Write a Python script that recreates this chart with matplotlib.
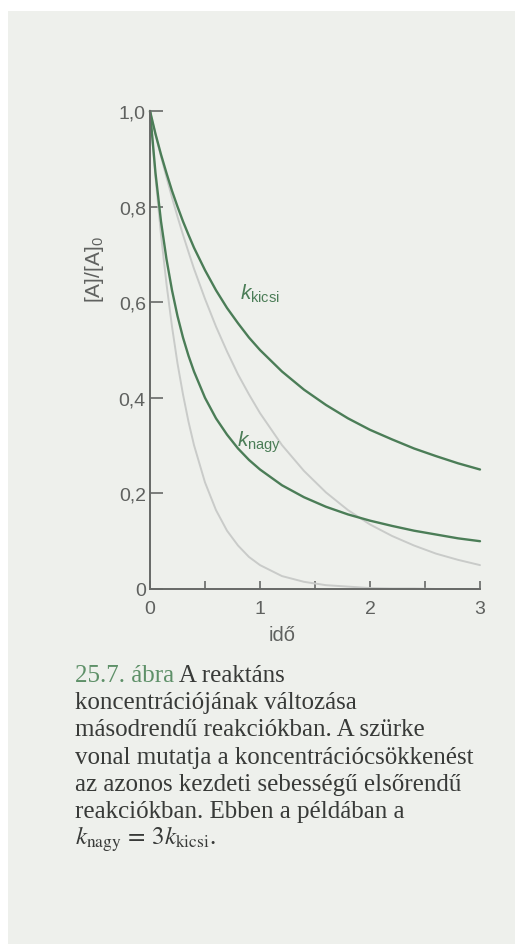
import matplotlib
matplotlib.use("Agg")
import matplotlib.pyplot as plt
from matplotlib.patches import Rectangle

plt.rcParams['mathtext.fontset'] = 'custom'
plt.rcParams['mathtext.rm'] = 'Liberation Sans'
plt.rcParams['mathtext.it'] = 'Liberation Sans:italic'
plt.rcParams['font.family'] = ['Liberation Sans', 'DejaVu Sans']

# ---- data ----
time = [0, 0.05, 0.1, 0.15, 0.2, 0.25, 0.3, 0.35, 0.4, 0.5, 0.6, 0.7, 0.8, 0.9, 1.0,
        1.2, 1.4, 1.6, 1.8, 2.0, 2.2, 2.4, 2.6, 2.8, 3.0]
k_kicsi_second = [1.0, 0.952, 0.909, 0.870, 0.833, 0.800, 0.769, 0.741, 0.714, 0.667, 0.625,
                  0.588, 0.556, 0.526, 0.500, 0.455, 0.417, 0.385, 0.357, 0.333, 0.313,
                  0.294, 0.278, 0.263, 0.250]
k_nagy_second = [1.0, 0.870, 0.769, 0.690, 0.625, 0.571, 0.526, 0.488, 0.455, 0.400, 0.357,
                 0.323, 0.294, 0.270, 0.250, 0.217, 0.192, 0.172, 0.156, 0.143, 0.132,
                 0.122, 0.114, 0.106, 0.100]
k_kicsi_first = [1.0, 0.951, 0.905, 0.861, 0.819, 0.779, 0.741, 0.705, 0.670, 0.607, 0.549,
                 0.497, 0.449, 0.407, 0.368, 0.301, 0.247, 0.202, 0.165, 0.135, 0.111,
                 0.091, 0.074, 0.061, 0.050]
k_nagy_first = [1.0, 0.861, 0.741, 0.638, 0.549, 0.472, 0.407, 0.350, 0.301, 0.223, 0.165,
                0.122, 0.091, 0.067, 0.050, 0.027, 0.015, 0.008, 0.005, 0.002, 0.001,
                0.001, 0.0, 0.0, 0.0]
x_ticks = [0, 1, 2, 3]
x_ticklabels = ["0", "1", "2", "3"]
x_minor = [0.5, 1.5, 2.5]
y_ticks = [0, 0.2, 0.4, 0.6, 0.8, 1.0]
y_ticklabels = ["0", "0,2", "0,4", "0,6", "0,8", "1,0"]
caption_lines = [
    "koncentrációjának változása",
    "másodrendű reakciókban. A szürke",
    "vonal mutatja a koncentrációcsökkenést",
    "az azonos kezdeti sebességű elsőrendű",
    "reakciókban. Ebben a példában a",
]

W, H = 515, 945
fig = plt.figure(figsize=(W / 100, H / 100), dpi=100, facecolor='white')

# page background (scan)
fig.patches.append(Rectangle((8 / W, 0), 1, 1 - 12 / H, transform=fig.transFigure,
                             facecolor='#eef0ec', edgecolor='none', zorder=-10))

GREEN = '#4b7d57'
GRAY = '#c9cbc9'
AXC = '#676967'
TXT = '#5f615f'

x0, x1 = 150, 480
y0, y1 = 590, 112
ax = fig.add_axes([x0 / W, 1 - y0 / H, (x1 - x0) / W, (y0 - y1) / H])
ax.set_facecolor('none')
ax.set_xlim(0, 3)
ax.set_ylim(0, 1)
for s in ['top', 'right']:
    ax.spines[s].set_visible(False)
for s in ['left', 'bottom']:
    ax.spines[s].set_color(AXC)
    ax.spines[s].set_linewidth(1.4)

ax.plot(time, k_nagy_first, color=GRAY, lw=1.4, clip_on=False, solid_capstyle='round')
ax.plot(time, k_kicsi_first, color=GRAY, lw=1.4, clip_on=False, solid_capstyle='round')
ax.plot(time, k_nagy_second, color=GREEN, lw=1.7, clip_on=False, solid_capstyle='round')
ax.plot(time, k_kicsi_second, color=GREEN, lw=1.7, clip_on=False, solid_capstyle='round')

ax.set_xticks(x_ticks)
ax.set_xticklabels(x_ticklabels)
ax.set_xticks(x_minor, minor=True)
ax.set_yticks(y_ticks)
ax.set_yticklabels(y_ticklabels)
ax.tick_params(axis='x', which='both', direction='in', length=6, width=1.2, color=AXC,
               labelsize=14, labelcolor=TXT, pad=8)
ax.tick_params(axis='y', which='both', direction='in', length=9, width=1.2, color=AXC,
               labelsize=14, labelcolor=TXT, pad=3)

ax.set_xlabel("idő", fontsize=14.5, color=TXT)
ax.xaxis.set_label_coords(1.2 / 3, -0.076)
ax.set_ylabel("[A]/[A]$_0$", fontsize=15, color=TXT)
ax.yaxis.set_label_coords(-0.133, 0.67)

ax.text(0.82, 0.62, r"$k_{\mathrm{kicsi}}$", color=GREEN, fontsize=15, ha='left', va='center')
ax.text(0.79, 0.31, r"$k_{\mathrm{nagy}}$", color=GREEN, fontsize=15, ha='left', va='center')

# caption
cx = 75 / W
fs = 18
serif = ['Liberation Serif', 'DejaVu Serif']
base = 682
step = 27.2
t1 = fig.text(cx, 1 - base / H, "25.7. ábra", color='#5e9068', fontsize=fs, family=serif,
              va='baseline', ha='left')
ax.annotate(" A reaktáns", xy=(1, 0), xycoords=t1, va='bottom', ha='left',
            color='#383a38', fontsize=fs, family=serif, annotation_clip=False)
for i, line in enumerate(caption_lines):
    fig.text(cx, 1 - (base + step * (i + 1)) / H, line, color='#383a38', fontsize=fs,
             family=serif, va='baseline', ha='left')
fig.text(cx, 1 - (base + step * 6) / H, r"$k_{\mathrm{nagy}}\,=\,3k_{\mathrm{kicsi}}$.",
         color='#383a38', fontsize=fs, family=serif, va='baseline', ha='left',
         math_fontfamily='stix')

fig.savefig("out.png", dpi=100, facecolor='white')
